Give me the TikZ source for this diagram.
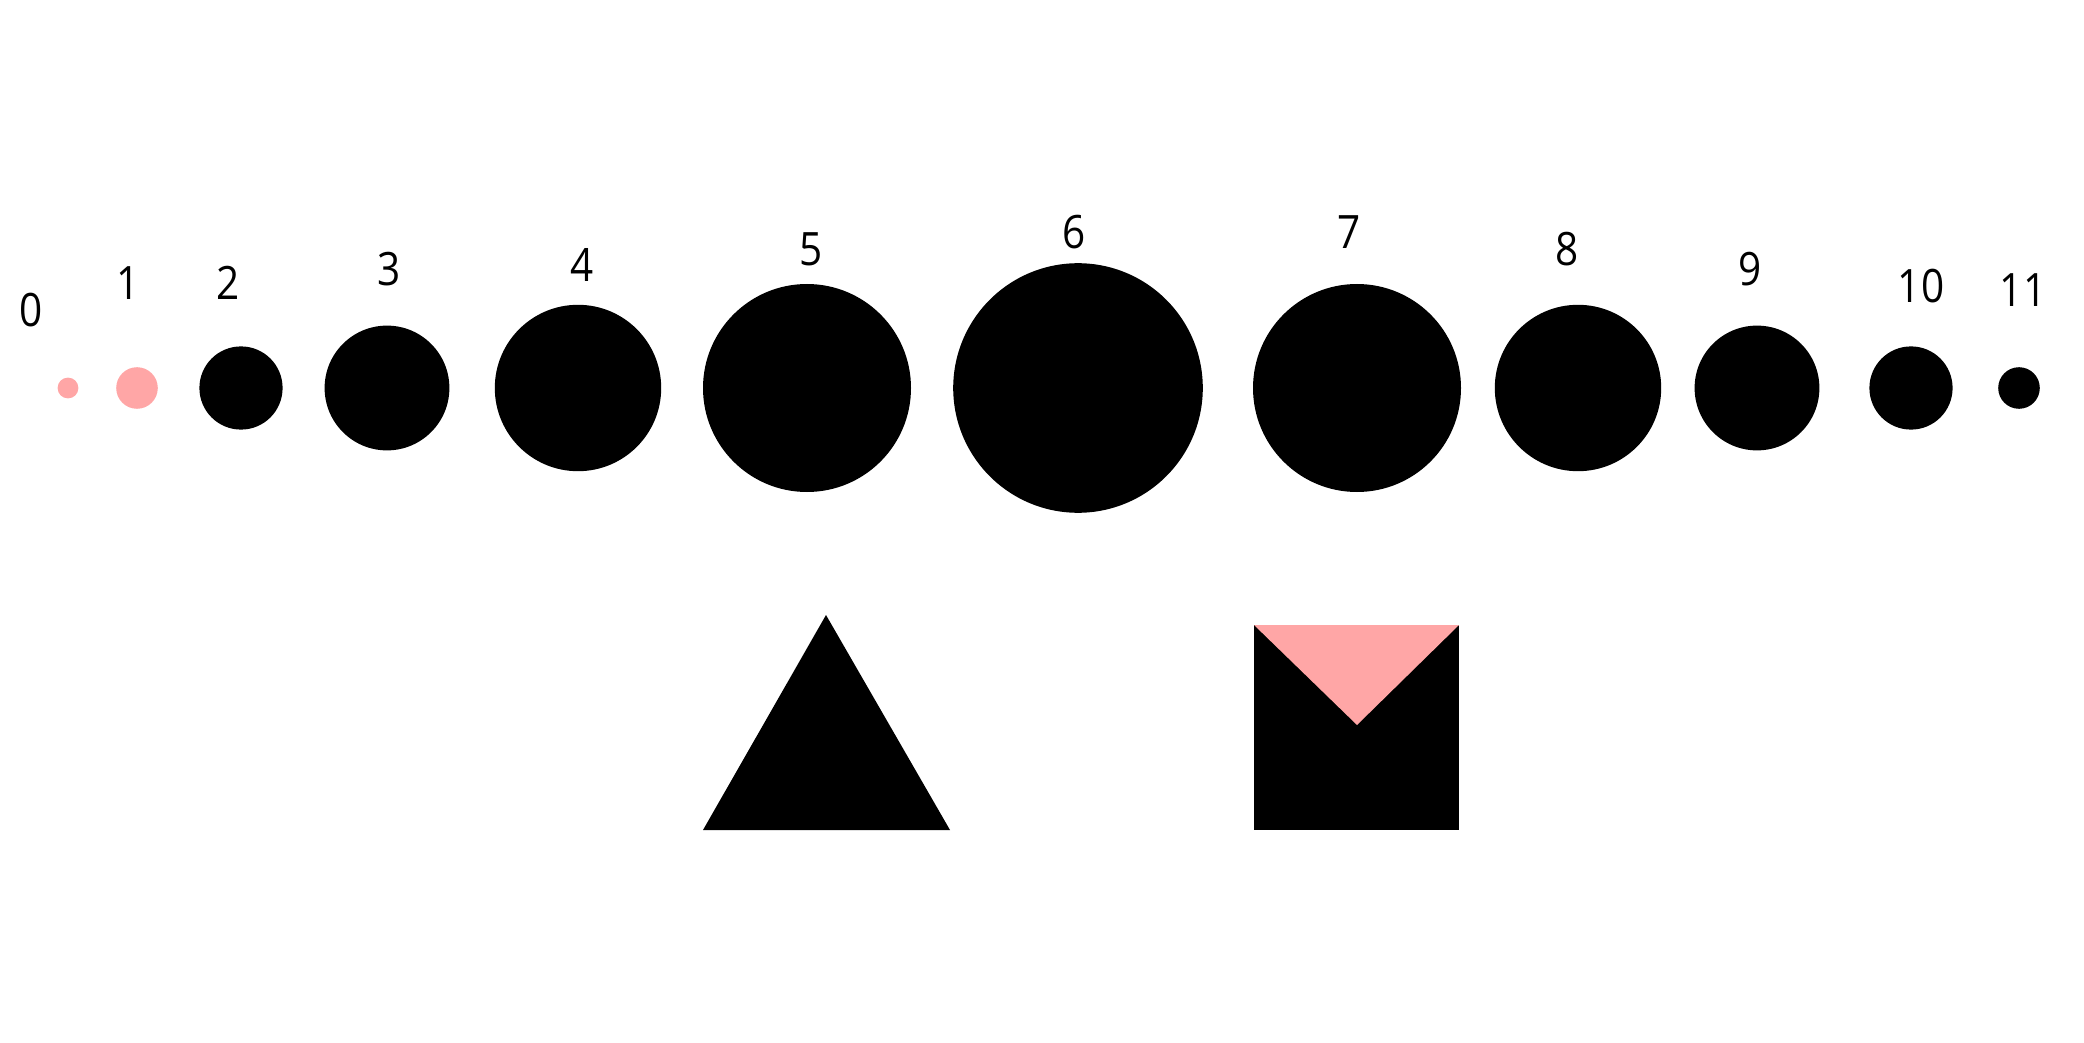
\documentclass[tikz,border=0pt]{standalone}
\usepackage{fontspec}
\setmainfont[Numbers=Lining,FakeStretch=0.88]{Open Sans}
\definecolor{pinkish}{RGB}{255,166,166}
\begin{document}
\begin{tikzpicture}[x=0.5pt,y=-0.5pt,
  dot/.style={circle,fill=black,inner sep=0pt,draw=none},
  pdot/.style={circle,fill=pinkish,inner sep=0pt,draw=none},
  lab/.style={inner sep=0pt,font=\fontsize{23pt}{26pt}\selectfont}]
\useasboundingbox[fill=white] (0,0) rectangle (2084,1043);
% circles (minimum size in pt = radius in px)
\node[pdot,minimum size=10.4pt] (c0) at (68,388) {};
\node[pdot,minimum size=20.8pt] (c1) at (137,388) {};
\node[dot,minimum size=41.6pt] (c2) at (241,388) {};
\node[dot,minimum size=62.4pt] (c3) at (387,388) {};
\node[dot,minimum size=83.2pt] (c4) at (578,388) {};
\node[dot,minimum size=104pt] (c5) at (807,388) {};
\node[dot,minimum size=124.8pt] (c6) at (1078,388) {};
\node[dot,minimum size=104pt] (c7) at (1357,388) {};
\node[dot,minimum size=83.2pt] (c8) at (1578,388) {};
\node[dot,minimum size=62.4pt] (c9) at (1757,388) {};
\node[dot,minimum size=41.6pt] (c10) at (1911,388) {};
\node[dot,minimum size=20.8pt] (c11) at (2019,388) {};
% labels
\node[lab] (l0) at (31,310) {0};
\node[lab] (l1) at (128,283) {1};
\node[lab] (l2) at (228,283) {2};
\node[lab] (l3) at (389,269) {3};
\node[lab] (l4) at (582,265) {4};
\node[lab] (l5) at (811,249) {5};
\node[lab] (l6) at (1074,232) {6};
\node[lab] (l7) at (1349,232) {7};
\node[lab] (l8) at (1567,249) {8};
\node[lab] (l9) at (1750,269) {9};
\node[lab] (l10) at (1921,286) {10};
\node[lab] (l11) at (2023,290) {11};
% triangle
\fill[black] (826,615) -- (950,830) -- (703,830) -- cycle;
% square with pink triangle
\fill[black] (1254,625) rectangle (1459,830);
\fill[pinkish] (1254,625) -- (1459,625) -- (1357,725) -- cycle;
\end{tikzpicture}
\end{document}
